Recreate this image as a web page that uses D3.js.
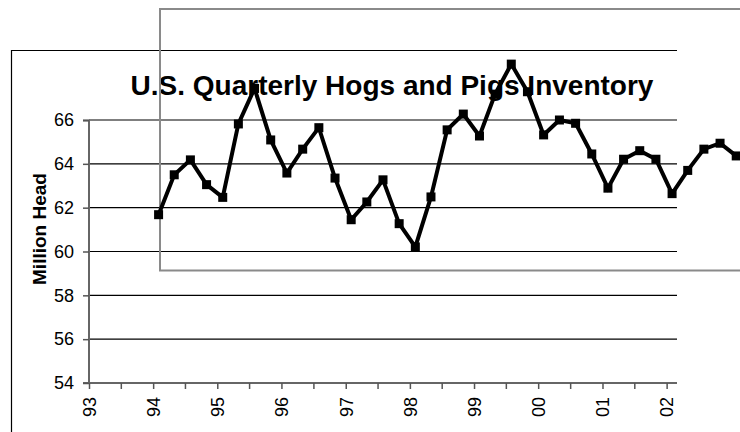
<!DOCTYPE html>
<html>
<head>
<meta charset="utf-8">
<script src="https://cdn.jsdelivr.net/npm/d3@7/dist/d3.min.js"></script>
<style>
  body { margin: 0; background: #fff; }
  svg { display: block; font-family: "Liberation Sans", Arial, sans-serif; }
</style>
</head>
<body>
<div id="chart"></div>
<script>
// quarterly survey months (category positions)
var quarters = [
  "1994-02","1994-05","1994-08","1994-11",
  "1995-02","1995-05","1995-08","1995-11",
  "1996-02","1996-05","1996-08","1996-11",
  "1997-02","1997-05","1997-08","1997-11",
  "1998-02","1998-05","1998-08","1998-11",
  "1999-02","1999-05","1999-08","1999-11",
  "2000-02","2000-05","2000-08","2000-11",
  "2001-02","2001-05","2001-08","2001-11",
  "2002-02","2002-05","2002-08","2002-11",
  "2003-02"
];
// million head
var inventory = [
  61.68, 63.50, 64.18, 63.05,
  62.47, 65.82, 67.44, 65.09,
  63.58, 64.67, 65.65, 63.35,
  61.45, 62.26, 63.27, 61.27,
  60.21, 62.49, 65.55, 66.27,
  65.27, 67.18, 68.55, 67.29,
  65.32, 66.00, 65.85, 64.45,
  62.89, 64.21, 64.60, 64.21,
  62.64, 63.70, 64.67, 64.94,
  64.36
];
var y_ticks = [54, 56, 58, 60, 62, 64, 66];
var x_years = ["1993","1994","1995","1996","1997","1998","1999","2000","2001","2002"];

var parse = d3.timeParse("%Y-%m");
var data = quarters.map(function(q, i){ return {date: parse(q), value: inventory[i]}; });

var svg = d3.select('#chart').append('svg')
    .attr('width', 740)
    .attr('height', 432);

var x_scale = d3.scaleTime()
    .domain([new Date(1993, 0, 1), new Date(2002, 2, 1)])
    .range([89, 677]);
var y_scale = d3.scaleLinear().domain([54, 66]).range([383, 120]);

// outer chart frame (top and left edges showing)
svg.append('path')
    .attr('d', 'M11.5,432 V50.5 H677')
    .attr('fill', 'none')
    .attr('stroke', '#000')
    .attr('stroke-width', 1.2);

// gridlines
svg.append('g').selectAll('line')
    .data(y_ticks.slice(1))
    .enter()
    .append('line')
    .attr('x1', 89).attr('x2', 677)
    .attr('y1', function(d){ return y_scale(d); })
    .attr('y2', function(d){ return y_scale(d); })
    .attr('stroke', '#000')
    .attr('stroke-width', 1.2);

// y axis
var y_axis = d3.axisLeft(y_scale).tickValues(y_ticks).tickSize(6).tickPadding(9);
svg.append('g').attr('class', 'y_axis').attr('transform', 'translate(89,0)').call(y_axis);

// x axis: ticks every half year, labels on the years
var half_years = [];
x_years.forEach(function(y){
  half_years.push(new Date(+y, 0, 1));
  half_years.push(new Date(+y, 6, 1));
});
half_years = half_years.filter(function(d){ return d <= x_scale.domain()[1]; });
var x_axis = d3.axisBottom(x_scale)
    .tickValues(half_years)
    .tickSize(6)
    .tickFormat(function(d){ return d.getMonth() === 0 ? d3.timeFormat('%y')(d) : ''; });
svg.append('g').attr('class', 'x_axis').attr('transform', 'translate(0,383)').call(x_axis);

svg.selectAll('.domain').attr('stroke', '#666').attr('stroke-width', 2);
svg.select('.y_axis .domain').attr('d', 'M-6,120.5H0V383H-6');
svg.select('.x_axis .domain').attr('d', 'M89,0H677');
svg.selectAll('.tick line').attr('stroke', '#555').attr('stroke-width', 1.5);
svg.selectAll('.tick text').style('font-size', '18px').style('font-family', '"Liberation Sans", Arial, sans-serif').attr('fill', '#000');
svg.selectAll('.x_axis .tick text')
    .attr('transform', 'rotate(-90)')
    .attr('text-anchor', 'end')
    .attr('x', -14)
    .attr('y', 0)
    .attr('dy', '0.35em');

// axis title
svg.append('text')
    .attr('transform', 'translate(46,229) rotate(-90)')
    .attr('text-anchor', 'middle')
    .style('font-size', '19px')
    .style('font-weight', 'bold')
    .text('Million Head');

// title
svg.append('text')
    .attr('x', 392)
    .attr('y', 95)
    .attr('text-anchor', 'middle')
    .style('font-size', '28px')
    .style('font-weight', 'bold')
    .text('U.S. Quarterly Hogs and Pigs Inventory');

// stray gray frame
svg.append('path')
    .attr('d', 'M745,9 H160 V270.5 H745')
    .attr('fill', 'none')
    .attr('stroke', '#8a8a8a')
    .attr('stroke-width', 2);

// series
var line = d3.line()
    .x(function(d){ return x_scale(d.date); })
    .y(function(d){ return y_scale(d.value); });
svg.append('path')
    .datum(data)
    .attr('d', line)
    .attr('fill', 'none')
    .attr('stroke', '#000')
    .attr('stroke-width', 4)
    .attr('stroke-linejoin', 'miter');

svg.append('g').selectAll('rect')
    .data(data)
    .enter()
    .append('rect')
    .attr('x', function(d){ return x_scale(d.date) - 4.5; })
    .attr('y', function(d){ return y_scale(d.value) - 4.5; })
    .attr('width', 9)
    .attr('height', 9)
    .attr('fill', '#000');
</script>
</body>
</html>
